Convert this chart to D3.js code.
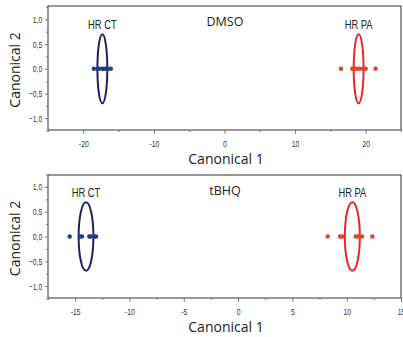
<!DOCTYPE html>
<html lang="en">
<head>
    <meta charset="UTF-8">
    <title>Canonical plots</title>
    <script src="https://d3js.org/d3.v7.min.js"></script>
    <style>
        body { margin: 0; background: #fff; }
        .tick text { font-family: "Liberation Sans", sans-serif; font-size: 9.5px; fill: #333; }
        .tick line { stroke: #777; }
        .axis path { display: none; }
        .title { font-family: "Open Sans", sans-serif; font-size: 14px; fill: #222; }
        .group-label { font-family: "Liberation Sans", sans-serif; font-size: 12px; fill: #222; }
        .treat { font-family: "Open Sans", sans-serif; font-size: 12.5px; fill: #222; }
    </style>
</head>
<body>
    <svg width="403" height="337"></svg>
    <script>
        // Canonical 1 scores (Canonical 2 = 0 for all points)
        const dmsoCT = [-18.5, -18.0, -17.8, -17.3, -17.1, -16.8, -16.5, -16.1];
        const dmsoPA = [16.5, 18.1, 18.4, 18.7, 19.1, 19.6, 20.0, 21.4];
        const tbhqCT = [-15.5, -14.55, -14.37, -13.7, -13.57, -13.24, -13.08];
        const tbhqPA = [8.26, 9.39, 9.6, 10.83, 11.02, 11.23, 11.41, 12.36];

        // confidence ellipse centres and radii (x radius, y radius)
        const dmsoEllipses = [
            { name: "HR CT", cx: -17.3, rx: 0.7, ry: 0.7 },
            { name: "HR PA", cx: 19.0, rx: 0.7, ry: 0.7 }
        ];
        const tbhqEllipses = [
            { name: "HR CT", cx: -14.0, rx: 0.68, ry: 0.69 },
            { name: "HR PA", cx: 10.52, rx: 0.69, ry: 0.69 }
        ];

        const dmsoXTicks = [-20, -10, 0, 10, 20];
        const dmsoXMinor = [-25, -15, -5, 5, 15, 25];
        const tbhqXTicks = [-15, -10, -5, 0, 5, 10, 15];
        const tbhqXMinor = [-17.5, -12.5, -7.5, -2.5, 2.5, 7.5, 12.5];
        const yTicks = [1.0, 0.5, 0.0, -0.5, -1.0];
        const yMinor = [1.25, 0.75, 0.25, -0.25, -0.75, -1.25];

        const ctPoint = "#1f3d80", ctLine = "#25215f";
        const paPoint = "#e0442a", paLine = "#e8252b";

        const svg = d3.select("svg");
        const fmt = d => d3.format(".1f")(d).replace(".", ",");
        const narrow = "scale(0.72,1)";

        function panel(opts) {
            const x = d3.scaleLinear().domain(opts.xDomain).range([48, 401]);
            const y = d3.scaleLinear().domain(opts.yDomain).range([opts.bottom, opts.top]);
            const g = svg.append("g");

            // frame
            g.append("rect")
                .attr("x", 48).attr("y", opts.top)
                .attr("width", 353).attr("height", opts.bottom - opts.top)
                .attr("fill", "none").attr("stroke", "#333").attr("stroke-width", 1);

            g.append("g").attr("class", "axis")
                .attr("transform", `translate(0,${opts.bottom})`)
                .call(d3.axisBottom(x).tickValues(opts.xTicks).tickSize(4).tickPadding(6)
                    .tickFormat(d => String(d)))
                .selectAll("text").attr("transform", narrow);
            g.append("g").attr("class", "axis")
                .attr("transform", `translate(0,${opts.bottom})`)
                .call(d3.axisBottom(x).tickValues(opts.xMinor).tickSize(2).tickFormat(""));

            g.append("g").attr("class", "axis")
                .attr("transform", "translate(48,0)")
                .call(d3.axisLeft(y).tickValues(yTicks).tickSize(3).tickPadding(5).tickFormat(fmt))
                .selectAll("text").attr("transform", narrow);
            g.append("g").attr("class", "axis")
                .attr("transform", "translate(48,0)")
                .call(d3.axisLeft(y).tickValues(yMinor).tickSize(2).tickFormat(""));

            // ellipses
            g.selectAll("ellipse").data(opts.ellipses).enter().append("ellipse")
                .attr("cx", d => x(d.cx))
                .attr("cy", y(0))
                .attr("rx", d => x(d.cx + d.rx) - x(d.cx))
                .attr("ry", d => y(0) - y(d.ry))
                .attr("fill", "none")
                .attr("stroke", (d, i) => i === 0 ? ctLine : paLine)
                .attr("stroke-width", 2);

            g.selectAll(".group-label").data(opts.ellipses).enter().append("text")
                .attr("class", "group-label")
                .attr("transform", d => `translate(${x(d.cx)},${y(0.8)}) scale(0.78,1)`)
                .attr("text-anchor", "middle")
                .text(d => d.name);

            // points
            [[opts.ct, ctPoint], [opts.pa, paPoint]].forEach(([vals, col]) => {
                g.selectAll(null).data(vals).enter().append("circle")
                    .attr("cx", d => x(d))
                    .attr("cy", y(0))
                    .attr("r", 2.2)
                    .attr("fill", col);
            });

            g.append("text").attr("class", "treat")
                .attr("x", 225).attr("y", opts.top + 20)
                .attr("text-anchor", "middle")
                .text(opts.label);

            g.append("text").attr("class", "title")
                .attr("x", 226).attr("y", opts.bottom + 34)
                .attr("text-anchor", "middle")
                .text("Canonical 1");

            g.append("text").attr("class", "title")
                .attr("transform", "rotate(-90)")
                .attr("x", -(opts.top + opts.bottom) / 2 - 2)
                .attr("y", 20)
                .attr("text-anchor", "middle")
                .text("Canonical 2");
        }

        panel({
            top: 6, bottom: 130, xDomain: [-25, 25], yDomain: [-1.24, 1.27],
            xTicks: dmsoXTicks, xMinor: dmsoXMinor,
            ellipses: dmsoEllipses, ct: dmsoCT, pa: dmsoPA, label: "DMSO"
        });
        panel({
            top: 175, bottom: 298, xDomain: [-17.5, 15], yDomain: [-1.24, 1.24],
            xTicks: tbhqXTicks, xMinor: tbhqXMinor,
            ellipses: tbhqEllipses, ct: tbhqCT, pa: tbhqPA, label: "tBHQ"
        });
    </script>
</body>
</html>
